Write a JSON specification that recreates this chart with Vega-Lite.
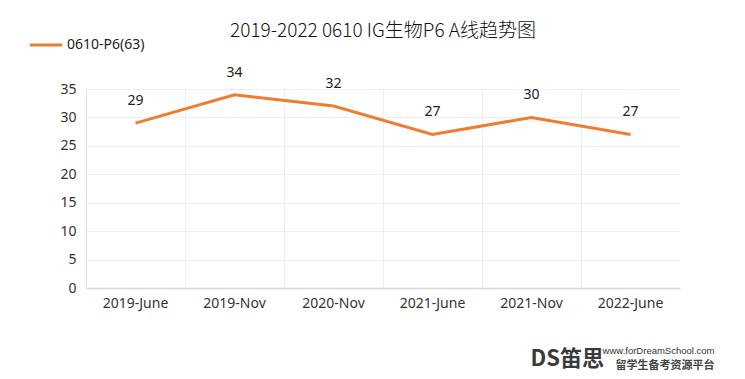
{
  "$schema": "https://vega.github.io/schema/vega-lite/v6.json",
  "width": 594,
  "height": 199,
  "autosize": {"type": "none"},
  "padding": {"left": 86, "top": 89, "right": 65, "bottom": 91},
  "background": "white",
  "title": {
    "text": "2019-2022 0610 IG生物P6 A线趋势图",
    "font": "Noto Sans CJK SC",
    "fontSize": 19,
    "fontWeight": 300,
    "color": "#111111",
    "offset": -14,
    "anchor": "middle"
  },
  "data": {
    "values": [
      {"session": "2019-June", "score": 29, "series": "0610-P6(63)"},
      {"session": "2019-Nov", "score": 34, "series": "0610-P6(63)"},
      {"session": "2020-Nov", "score": 32, "series": "0610-P6(63)"},
      {"session": "2021-June", "score": 27, "series": "0610-P6(63)"},
      {"session": "2021-Nov", "score": 30, "series": "0610-P6(63)"},
      {"session": "2022-June", "score": 27, "series": "0610-P6(63)"}
    ]
  },
  "encoding": {
    "x": {
      "field": "session",
      "type": "ordinal",
      "sort": null,
      "scale": {"type": "band", "paddingInner": 0, "paddingOuter": 0},
      "axis": {
        "title": "留学生备考资源平台",
        "titleFont": "Noto Sans CJK SC",
        "titleFontSize": 11,
        "titleFontWeight": "bold",
        "titleColor": "#444444",
        "titleAlign": "right",
        "titleBaseline": "middle",
        "titleX": 628,
        "titleY": 77,
        "labelAngle": 0,
        "labelFont": "Noto Sans",
        "labelFontSize": 14,
        "labelColor": "#333333",
        "labelPadding": 8,
        "ticks": false,
        "grid": true,
        "bandPosition": 0,
        "gridColor": "#eeeeee",
        "domainColor": "#d9d9d9",
        "domainWidth": 1.5
      }
    }
  },
  "layer": [
    {
      "mark": {"type": "line", "strokeWidth": 3},
      "encoding": {
        "y": {
          "field": "score",
          "type": "quantitative",
          "scale": {"domain": [0, 35], "nice": false},
          "axis": {
            "title": "DS笛思",
            "titleFont": "Noto Sans CJK SC",
            "titleFontSize": 22,
            "titleFontWeight": "bold",
            "titleColor": "#3a3a3a",
            "titleAngle": 0,
            "titleAlign": "left",
            "titleBaseline": "middle",
            "titleX": 444,
            "titleY": 269,
            "labelFont": "Noto Sans",
            "labelFontSize": 14,
            "labelColor": "#333333",
            "labelPadding": 10,
            "values": [0, 5, 10, 15, 20, 25, 30, 35],
            "ticks": false,
            "gridColor": "#eeeeee",
            "domainColor": "#e0e0e0"
          }
        },
        "color": {
          "field": "series",
          "type": "nominal",
          "scale": {"range": ["#ED7D31"]},
          "legend": {
            "title": null,
            "orient": "none",
            "legendX": -58,
            "legendY": -62,
            "symbolType": "stroke",
            "symbolSize": 1050,
            "symbolStrokeWidth": 3,
            "labelFont": "Noto Sans",
            "labelFontSize": 14,
            "labelColor": "#222222",
            "labelOffset": 3
          }
        }
      }
    },
    {
      "mark": {"type": "text", "dy": -22, "font": "Noto Sans", "fontSize": 14, "color": "#222222"},
      "encoding": {
        "y": {
          "field": "score",
          "type": "quantitative",
          "scale": {"domain": [0, 35], "nice": false},
          "axis": {
            "orient": "right",
            "title": "www.forDreamSchool.com",
            "titleFont": "Liberation Sans",
            "titleFontSize": 9.5,
            "titleFontWeight": "normal",
            "titleColor": "#333333",
            "titleAngle": 0,
            "titleAlign": "right",
            "titleBaseline": "middle",
            "titleX": 34,
            "titleY": 261,
            "labels": false,
            "ticks": false,
            "domain": false,
            "grid": false
          }
        },
        "text": {"field": "score", "type": "quantitative"}
      }
    }
  ],
  "resolve": {"axis": {"y": "independent"}},
  "config": {"view": {"stroke": null}}
}
